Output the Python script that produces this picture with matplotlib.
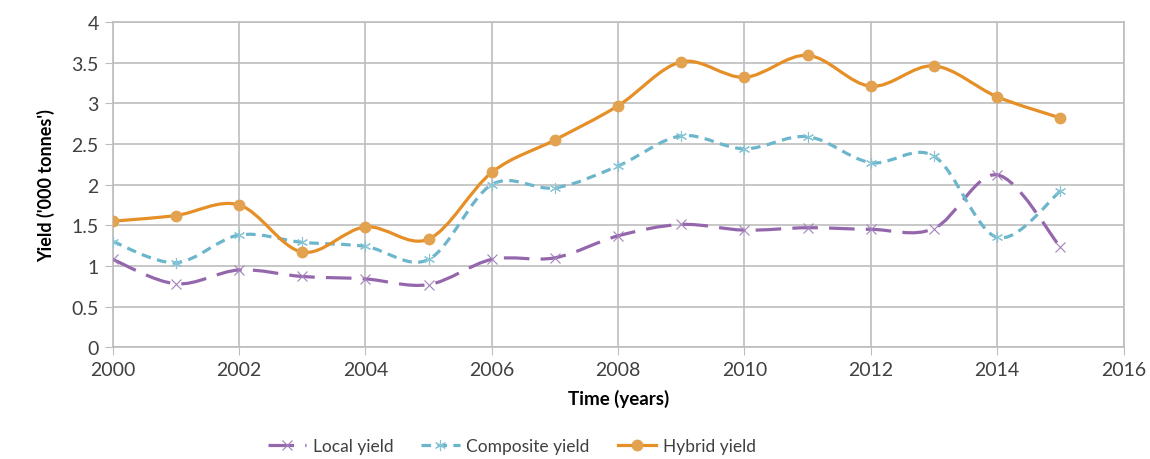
import numpy as np
import matplotlib
matplotlib.use('Agg')
from matplotlib import pyplot as plt
from matplotlib.path import Path
from matplotlib.patches import PathPatch
from matplotlib.lines import Line2D

plt.rcParams['font.family'] = ['Lato', 'DejaVu Sans']

years = [2000, 2001, 2002, 2003, 2004, 2005, 2006, 2007,
         2008, 2009, 2010, 2011, 2012, 2013, 2014, 2015]
local_yield = [1.08, 0.78, 0.95, 0.87, 0.84, 0.77, 1.08, 1.10,
               1.37, 1.51, 1.44, 1.47, 1.45, 1.46, 2.12, 1.23]
composite_yield = [1.30, 1.04, 1.38, 1.29, 1.24, 1.08, 2.00, 1.96,
                   2.23, 2.60, 2.44, 2.59, 2.27, 2.35, 1.35, 1.92]
hybrid_yield = [1.55, 1.62, 1.75, 1.17, 1.48, 1.33, 2.15, 2.55,
                2.97, 3.51, 3.32, 3.59, 3.21, 3.46, 3.08, 2.82]


def smooth_path(x, y):
    # excel-style smoothed line: cubic bezier through the points
    pts = np.column_stack([x, y]).astype(float)
    n = len(pts)
    verts = [pts[0]]
    codes = [Path.MOVETO]
    for i in range(n - 1):
        p0 = pts[i - 1] if i > 0 else pts[i]
        p1 = pts[i]
        p2 = pts[i + 1]
        p3 = pts[i + 2] if i + 2 < n else pts[i + 1]
        c1 = p1 + (p2 - p0) / 6.0
        c2 = p2 - (p3 - p1) / 6.0
        verts += [c1, c2, p2]
        codes += [Path.CURVE4] * 3
    return Path(verts, codes)


fig = plt.figure(figsize=(11.5, 4.6), dpi=100)
ax = fig.add_axes([0.098, 0.243, 0.879, 0.707])

series = [
    ('Local yield', local_yield, '#9467AC', '#A482BC', 'x', (0, (8, 3.5)), 7),
    ('Composite yield', composite_yield, '#6CB6CC', '#86C4D6', (6, 2, 0), (0, (3, 2)), 8),
    ('Hybrid yield', hybrid_yield, '#E58F26', '#E2A24F', 'o', '-', 7),
]

handles = []
for name, vals, col, mcol, mk, ls, ms in series:
    patch = PathPatch(smooth_path(years, vals), fill=False, edgecolor=col,
                      lw=2.3, linestyle=ls, capstyle='butt', zorder=3)
    ax.add_patch(patch)
    mew = 1.5 if mk == 'o' else 0.8
    ax.plot(years, vals, linestyle='none', marker=mk, ms=ms, color=mcol,
            mec=mcol, mew=mew, zorder=4)
    handles.append(Line2D([], [], color=col, lw=2.3, linestyle=ls,
                          marker=mk, ms=ms, mfc=mcol, mec=mcol, mew=mew))

ax.set_xlim(2000, 2016)
ax.set_ylim(0, 4)
ax.set_xticks(range(2000, 2017, 2))
ax.set_yticks(np.arange(0, 4.01, 0.5))
ax.set_yticklabels(['0', '0.5', '1', '1.5', '2', '2.5', '3', '3.5', '4'])
ax.grid(True, color='#BDBDBD', lw=1.2)
ax.set_axisbelow(True)
for s in ax.spines.values():
    s.set_color('#BDBDBD')
    s.set_linewidth(1.2)
ax.tick_params(axis='both', length=6, color='#BDBDBD', labelsize=14,
               labelcolor='#404040', pad=4)

ax.set_xlabel('Time (years)', fontsize=13.5, fontweight='bold', labelpad=8)
ax.set_ylabel("Yield ('000 tonnes')", fontsize=13, fontweight='bold', labelpad=12)

fig.legend(handles, [s[0] for s in series], loc='center', ncol=3,
           bbox_to_anchor=(0.445, 0.028), frameon=False, fontsize=12.5,
           handlelength=2.2, columnspacing=1.6, handletextpad=0.4,
           labelcolor='#404040')

plt.savefig('out.png', dpi=100)
